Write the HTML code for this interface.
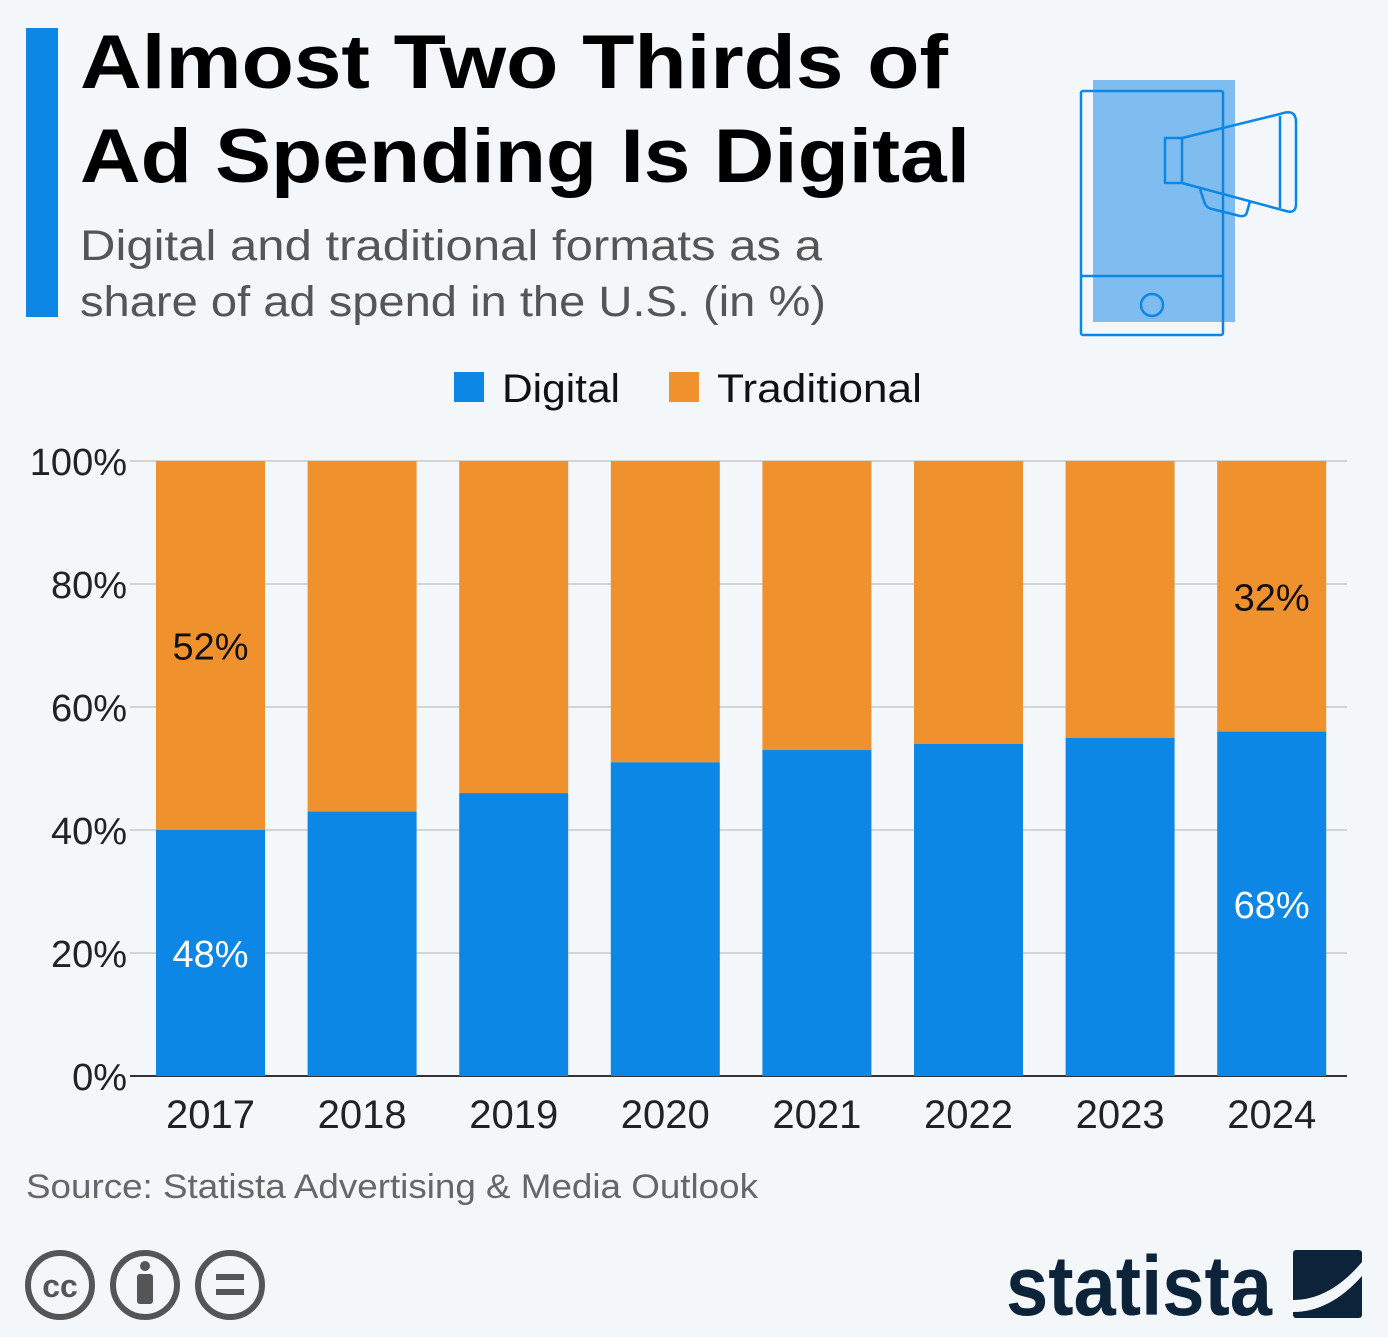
<!DOCTYPE html>
<html><head><meta charset="utf-8"><style>
html,body{margin:0;padding:0;background:#f4f7fa;}
svg{display:block;font-family:"Liberation Sans",sans-serif;}
</style></head><body>
<svg id="chart" width="1388" height="1337" viewBox="0 0 1388 1337" xmlns="http://www.w3.org/2000/svg">
<rect width="1388" height="1337" fill="#f4f7fa"/>
<rect x="26" y="28" width="32" height="289" fill="#0c87e6"/>
<text x="80" y="88" font-size="76" font-weight="bold" fill="#000" textLength="868" lengthAdjust="spacingAndGlyphs">Almost Two Thirds of</text>
<text x="80" y="182" font-size="76" font-weight="bold" fill="#000" textLength="890" lengthAdjust="spacingAndGlyphs">Ad Spending Is Digital</text>
<text x="80" y="260" font-size="43" fill="#555" textLength="742" lengthAdjust="spacingAndGlyphs">Digital and traditional formats as a</text>
<text x="80" y="316" font-size="43" fill="#555" textLength="746" lengthAdjust="spacingAndGlyphs">share of ad spend in the U.S. (in %)</text>
<g fill="none" stroke="#0c87e6" stroke-width="2.5" stroke-linejoin="round">
<rect x="1093" y="80" width="142" height="242" fill="#7fbdf0" stroke="none"/>
<rect x="1081" y="91" width="142" height="244" rx="2"/>
<line x1="1081" y1="276" x2="1223" y2="276"/>
<circle cx="1152" cy="305" r="11"/>
<rect x="1165" y="138" width="17" height="45"/>
<path d="M1182 138 L1280 114 Q1296 108 1296 122 L1296 204 Q1296 214 1286 211 L1182 183"/>
<line x1="1280" y1="116" x2="1280" y2="208"/>
<path d="M1200 189 L1205 204 Q1207 208 1212 209 L1240 216 Q1246 217 1247 212 L1250 201"/>
</g>
<g>
<rect x="454" y="372" width="30" height="30" fill="#0c87e6"/>
<text x="502" y="402" font-size="40" fill="#111" textLength="118" lengthAdjust="spacingAndGlyphs">Digital</text>
<rect x="669" y="372" width="30" height="30" fill="#ef922e"/>
<text x="717" y="402" font-size="40" fill="#111" textLength="205" lengthAdjust="spacingAndGlyphs">Traditional</text>
</g>
<g id="grid"></g><g id="bars"></g><g id="labels"></g>
<text x="26" y="1198" font-size="34" fill="#666" textLength="732" lengthAdjust="spacingAndGlyphs">Source: Statista Advertising &amp; Media Outlook</text>
<g fill="none" stroke="#555" stroke-width="6">
<circle cx="60" cy="1285" r="32"/><text x="60" y="1297" font-size="32" font-weight="bold" fill="#555" stroke="none" text-anchor="middle">cc</text>
<circle cx="145" cy="1285" r="32"/><circle cx="145" cy="1266" r="5" fill="#555" stroke="none"/><rect x="137" y="1274" width="16" height="30" rx="3" fill="#555" stroke="none"/>
<circle cx="230" cy="1285" r="32"/><rect x="216" y="1274" width="28" height="6" fill="#555" stroke="none"/><rect x="216" y="1289" width="28" height="6" fill="#555" stroke="none"/>
</g>
<g>
<text x="1006" y="1315" font-size="84" font-weight="bold" fill="#0d2339" textLength="266" lengthAdjust="spacingAndGlyphs">statista</text>
<rect x="1293" y="1250" width="69" height="68" rx="3" fill="#0d2339"/>
<path d="M1293 1300 Q1330 1300 1362 1262 L1362 1276 Q1330 1312 1293 1312 Z" fill="#f4f7fa"/>
</g>
</svg>
<script>
const years=["2017","2018","2019","2020","2021","2022","2023","2024"];
const digital=[40,43,46,51,53,54,55,56];
const yTicks=[0,20,40,60,80,100];
const tickLabels=["0%","20%","40%","60%","80%","100%"];
const annotDigital=["48%","","","","","","","68%"];
const annotTrad=["52%","","","","","","","32%"];
const NS="http://www.w3.org/2000/svg";
const y0=1076,y100=461,x0=130,x1=1347;
const yS=v=>y0-(y0-y100)*v/100;
const step=151.6,bw=109;
const xS=i=>156+i*step;
function mk(t,a,p){const e=document.createElementNS(NS,t);for(const k in a)e.setAttribute(k,a[k]);p.appendChild(e);return e;}
const grid=document.getElementById('grid'),bars=document.getElementById('bars'),lab=document.getElementById('labels');
yTicks.forEach((v,i)=>{
 const l=mk('line',{x1:x0,x2:x1,y1:yS(v),y2:yS(v),stroke:v===0?'#333':'#c8c8c8','stroke-width':v===0?2:1.5},grid);
 
 
 const t=mk('text',{x:127,y:yS(v)+14,'font-size':38,fill:'#222','text-anchor':'end'},grid);
 t.textContent=tickLabels[i];
 
 
});
years.forEach((yr,i)=>{
 const x=xS(i);
 const tr=mk('rect',{x:x,y:yS(100),width:bw,height:yS(digital[i])-yS(100),fill:'#ef922e'},bars);
 
 
 const d=mk('rect',{x:x,y:yS(digital[i]),width:bw,height:y0-yS(digital[i]),fill:'#0c87e6'},bars);
 
 
 const t=mk('text',{x:x+bw/2,y:1128,'font-size':40,fill:'#222','text-anchor':'middle'},lab);
 t.textContent=yr;
 
 
 if(annotDigital[i]){
  const a=mk('text',{x:x+bw/2,y:(y0+yS(digital[i]))/2+14,'font-size':38,fill:'#fff','text-anchor':'middle'},lab);
  a.textContent=annotDigital[i];
  
  
  const b=mk('text',{x:x+bw/2,y:(yS(100)+yS(digital[i]))/2+14,'font-size':38,fill:'#111','text-anchor':'middle'},lab);
  b.textContent=annotTrad[i];
  
  
 }
});
</script>
</body></html>
